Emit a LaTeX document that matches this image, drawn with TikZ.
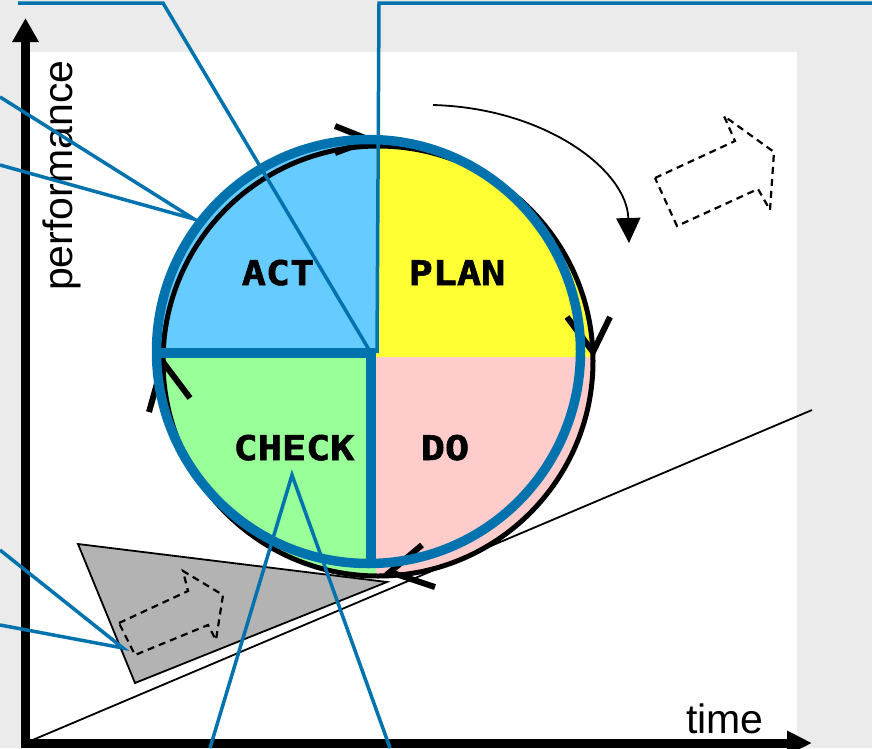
\documentclass[tikz,border=0pt]{standalone}
\usepackage{fontspec}
\setmainfont{Liberation Sans}
\newfontfamily\pixfont[BoldFeatures={FakeBold=1.6}]{DejaVu Sans Mono}
\usetikzlibrary{arrows.meta}
\definecolor{calloutblue}{HTML}{0073AE}
\definecolor{actblue}{HTML}{66CCFF}
\definecolor{planyellow}{HTML}{FFFF33}
\definecolor{checkgreen}{HTML}{99FF99}
\definecolor{dopink}{HTML}{FFCCCC}
\definecolor{bggray}{HTML}{EBEBEB}
\definecolor{wedgegray}{HTML}{B3B3B3}
\tikzset{
  axisline/.style={line width=9pt},
  callout/.style={calloutblue, line width=3.5pt},
  ringblue/.style={calloutblue, line width=9.5pt},
  ringblack/.style={black, line width=5pt},
  chevron/.style={black, line width=6pt},
  dasharrow/.style={black, line width=2.2pt, dash pattern=on 7pt off 5pt, line join=miter},
  pdcalabel/.style={anchor=base, inner sep=0pt, font=\pixfont\bfseries\fontsize{34}{34}\selectfont},
  axislabel/.style={inner sep=0pt, font=\fontsize{41}{41}\selectfont}
}
\newcommand{\wide}[1]{\scalebox{1.18}[1]{#1}}
\begin{document}
\begin{tikzpicture}[x=1pt, y=-1pt]
\useasboundingbox (0,0) rectangle (872,748);
\fill[bggray] (0,0) rectangle (872,748);
\fill[white] (22,52) rectangle (797,748);

% key coordinates
\coordinate (origin) at (25.5,743);
\coordinate (ytop) at (25.5,18);
\coordinate (xend) at (812,743);
\coordinate (ystart) at (25.5,747);
\coordinate (xstart) at (21,743);
\coordinate (slopeend) at (812,410);
\coordinate (bc) at (368.5,351.5);
\coordinate (kc) at (378,361);
\coordinate (hub) at (376,357);
\coordinate (center) at (371,353);
\coordinate (ringW) at (156,353);
\coordinate (ringS) at (371,564);

% slope line
\draw[line width=1.8pt] (origin) -- (slopeend);

% gray wedge
\filldraw[fill=wedgegray, draw=black, line width=1.8pt] (78,544) -- (387,582) -- (135,683) -- cycle;
\draw[dasharrow] (119,623) -- (188,591) -- (183,571) -- (223,595) -- (216,640) -- (208,625) -- (135,655) -- cycle;

% dashed arrow top right
\draw[dasharrow] (655,178) -- (735,141) -- (724,116) -- (774,152) -- (770,210) -- (758,189) -- (677,226) -- cycle;

% quadrant fills
\foreach \cc/\rr in {bc/214pt, kc/215pt}{
  \begin{scope}
    \clip (\cc) circle[radius=\rr];
    \fill[actblue] (hub) rectangle (140,120);
    \fill[planyellow] (hub) rectangle (620,120);
    \fill[checkgreen] (hub) rectangle (140,600);
    \fill[dopink] (hub) rectangle (620,600);
  \end{scope}
}

% black cycle ring with chevrons
\draw[ringblack] (kc) circle[radius=215pt];
\draw[chevron] (335,126) -- (370,140) -- (335,153);
\draw[chevron] (567,317) -- (593,352) -- (610,317);
\draw[chevron] (422,545) -- (390,572) -- (435,587);
\draw[chevron] (190,398) -- (163,362) -- (149,412);

% blue ring and dividers
\draw[ringblue] (bc) circle[radius=212pt];
\draw[ringblue, line join=miter] (ringW) -| (ringS);

% labels
\node[pdcalabel] (act) at (278,285) {\wide{ACT}};
\node[pdcalabel] (plan) at (457,285) {\wide{PLAN}};
\node[pdcalabel] (check) at (294,460) {\wide{CHECK}};
\node[pdcalabel] (do) at (445,460) {\wide{DO}};

% rotation arrow
\coordinate (rotA) at (433,105);
\coordinate (rotB) at (629,243);
\draw[line width=1.8pt, -{Triangle[length=25pt, width=24pt]}] (rotA) .. controls (545,108) and (627,170) .. (rotB);

% axes
\draw[axisline, -{Triangle[length=24pt, width=25pt]}] (ystart) -- (ytop);
\draw[axisline, -{Triangle[length=25pt, width=23pt]}] (xstart) -- (xend);
\node[axislabel, rotate=90, anchor=base west] (perf) at (72,291) {performance};
\node[axislabel, anchor=base west] (time) at (686,733) {time};

% callout pointers
\coordinate (tlA) at (18,3);
\coordinate (tlB) at (163,3);
\coordinate (trA) at (872,3);
\coordinate (trB) at (379,3);
\coordinate (lA) at (0,97);
\coordinate (lB) at (0,165);
\coordinate (lT) at (194,219);
\coordinate (blA) at (0,550);
\coordinate (blB) at (0,625);
\coordinate (blT) at (123,648);
\coordinate (chk) at (292,475);
\coordinate (bA) at (210,748);
\coordinate (bB) at (390,748);
\draw[callout] (tlA) -- (tlB) -- (center);
\draw[callout] (trA) -- (trB) -- (377,353);
\draw[callout] (lA) -- (lT) -- (lB);
\draw[callout] (blA) -- (blT) -- (blB);
\draw[callout] (bA) -- (chk) -- (bB);
\end{tikzpicture}
\end{document}
